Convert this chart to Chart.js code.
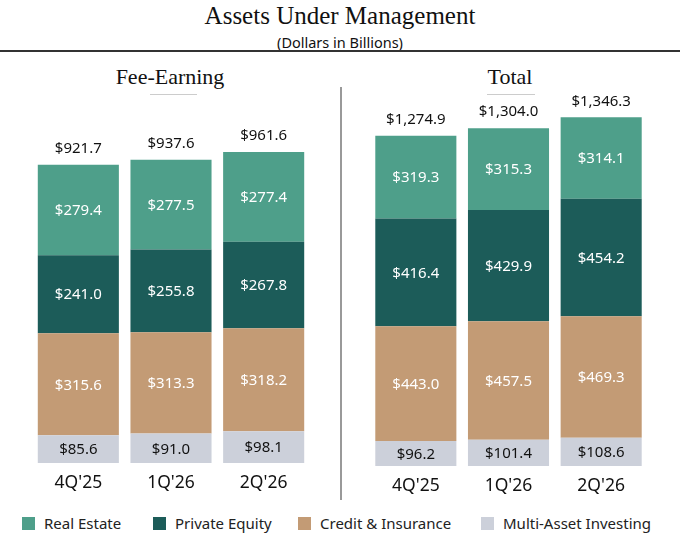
<!DOCTYPE html>
<html>
<head>
<meta charset="utf-8">
<script src="https://cdn.jsdelivr.net/npm/chart.js@4.4.1/dist/chart.umd.min.js"></script>
<style>
  body { margin: 0; background: #fff; }
  #page { position: relative; width: 680px; height: 536px; overflow: hidden; font-family: 'Noto Sans', sans-serif; }
  .abs { position: absolute; }
  #title { left: 0; width: 680px; top: 2px; text-align: center; font-family: 'Liberation Serif', serif; font-size: 25px; color: #111; }
  #subtitle { left: 0; width: 680px; top: 32px; text-align: center; font-size: 14.5px; color: #111; }
  #rule { left: 0; top: 50px; width: 680px; height: 2px; background: #333; }
  .panelTitle { top: 64px; width: 340px; text-align: center; font-family: 'Liberation Serif', serif; font-size: 22px; color: #111; }
  .underline { top: 94px; height: 1px; background: #ccc; }
  #divider { left: 340px; top: 87px; width: 2px; height: 413px; background: #999; }
  .chartBox { top: 80px; width: 340px; }
  .legItem { top: 513px; font-size: 15px; color: #222; white-space: nowrap; }
  .legItem span { display: inline-block; width: 13px; height: 13px; vertical-align: -1px; margin-right: 9px; }
</style>
</head>
<body>
<div id="page">
  <div id="title" class="abs">Assets Under Management</div>
  <div id="subtitle" class="abs">(Dollars in Billions)</div>
  <div id="rule" class="abs"></div>
  <div class="abs panelTitle" style="left:0">Fee-Earning</div>
  <div class="abs underline" style="left:150px;width:47px"></div>
  <div class="abs panelTitle" style="left:340px">Total</div>
  <div class="abs underline" style="left:487px;width:48px"></div>
  <div id="divider" class="abs"></div>
  <div class="abs chartBox" style="left:0;height:424px"><canvas id="feeChart"></canvas></div>
  <div class="abs chartBox" style="left:340px;height:427px"><canvas id="totalChart"></canvas></div>
  <div id="legend"></div>
</div>
<script>
// Data (Dollars in Billions)
const quarters = ["4Q'25", "1Q'26", "2Q'26"];

const feeRealEstate = [279.4, 277.5, 277.4];
const feePrivateEquity = [241.0, 255.8, 267.8];
const feeCredit = [315.6, 313.3, 318.2];
const feeMultiAsset = [85.6, 91.0, 98.1];
const feeTotals = [921.7, 937.6, 961.6];

const totRealEstate = [319.3, 315.3, 314.1];
const totPrivateEquity = [416.4, 429.9, 454.2];
const totCredit = [443.0, 457.5, 469.3];
const totMultiAsset = [96.2, 101.4, 108.6];
const totTotals = [1274.9, 1304.0, 1346.3];

const seriesNames = ['Real Estate', 'Private Equity', 'Credit & Insurance', 'Multi-Asset Investing'];
const seriesColors = ['#4e9f8a', '#1c5c59', '#c39b75', '#ccd0da'];
const labelColors = ['#ffffff', '#ffffff', '#ffffff', '#111111'];

function money(v) {
  return '$' + v.toLocaleString('en-US', { minimumFractionDigits: 1, maximumFractionDigits: 1 });
}

// draws segment values in the middle of each piece and totals on top
const valueLabels = {
  id: 'valueLabels',
  afterDatasetsDraw(chart, args, opts) {
    const ctx = chart.ctx;
    ctx.save();
    ctx.textAlign = 'center';
    ctx.textBaseline = 'middle';
    ctx.font = "15px 'Noto Sans', sans-serif";
    let top = [];
    chart.data.datasets.forEach((ds, i) => {
      const meta = chart.getDatasetMeta(i);
      meta.data.forEach((bar, j) => {
        ctx.fillStyle = ds.labelColor;
        ctx.fillText(money(ds.data[j]), bar.x, (bar.y + bar.base) / 2 + 1);
        if (top[j] === undefined || bar.y < top[j].y) top[j] = bar;
      });
    });
    ctx.fillStyle = '#111';
    top.forEach((bar, j) => {
      ctx.fillText(money(opts.totals[j]), bar.x, bar.y - 16);
    });
    ctx.restore();
  }
};

function makeChart(id, parts, totals, yMax, pad) {
  // bottom of the stack first
  const order = [3, 2, 1, 0];
  return new Chart(document.getElementById(id), {
    type: 'bar',
    data: {
      labels: quarters,
      datasets: order.map(k => ({
        label: seriesNames[k],
        data: parts[k],
        backgroundColor: seriesColors[k],
        labelColor: labelColors[k],
        categoryPercentage: 1,
        barPercentage: 0.875
      }))
    },
    options: {
      responsive: true,
      maintainAspectRatio: false,
      animation: false,
      layout: { padding: pad },
      plugins: {
        legend: { display: false },
        tooltip: { enabled: false },
        valueLabels: { totals: totals }
      },
      scales: {
        x: {
          stacked: true,
          grid: { display: false, drawTicks: false },
          border: { display: false },
          ticks: { color: '#111', padding: 10, font: { family: "'Noto Sans', sans-serif", size: 17.5 } }
        },
        y: { stacked: true, display: false, min: 0, max: yMax }
      }
    },
    plugins: [valueLabels]
  });
}

makeChart('feeChart', [feeRealEstate, feePrivateEquity, feeCredit, feeMultiAsset], feeTotals,
  1122, { left: 32, right: 30, top: 20, bottom: 0 });
makeChart('totalChart', [totRealEstate, totPrivateEquity, totCredit, totMultiAsset], totTotals,
  1413, { left: 29.5, right: 32.5, top: 20, bottom: 0 });

// legend across both panels
const legendX = [22, 153, 298, 481];
const legend = document.getElementById('legend');
seriesNames.forEach((name, k) => {
  const item = document.createElement('div');
  item.className = 'abs legItem';
  item.style.left = legendX[k] + 'px';
  item.innerHTML = '<span style="background:' + seriesColors[k] + '"></span>' + name;
  legend.appendChild(item);
});
</script>
</body>
</html>
